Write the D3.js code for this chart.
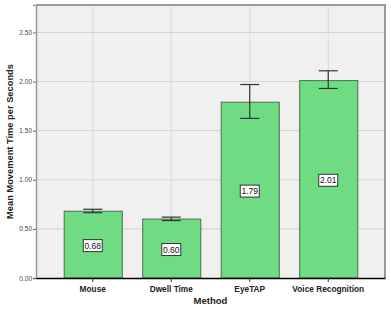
<!DOCTYPE html>
<html><head><meta charset="utf-8">
<script src="https://cdn.jsdelivr.net/npm/d3@7"></script>
<style>body{margin:0;background:#fff;}svg{display:block;}</style>
</head><body>
<svg id="c" width="391" height="313"></svg>
<script>
const categories = ["Mouse", "Dwell Time", "EyeTAP", "Voice Recognition"];
const means = [0.68, 0.60, 1.79, 2.01];
const errLow = [0.665, 0.585, 1.625, 1.93];
const errHigh = [0.70, 0.62, 1.97, 2.11];
const yTicks = [0, 0.5, 1.0, 1.5, 2.0, 2.5];
const yTitle = "Mean Movement Time per Seconds";
const xTitle = "Method";

const svg = d3.select("#c");
const L = 36, R = 385, T = 5, B = 278;
const x = d3.scaleBand().domain(categories).range([L, R]).paddingInner(0.26).paddingOuter(0.353);
const y = d3.scaleLinear().domain([0, 2.78]).range([B, T]);

svg.append("rect").attr("x", L).attr("y", T).attr("width", R - L).attr("height", B - T).attr("fill", "#f0f0f0");

// grid
svg.append("g").selectAll("line").data(yTicks.slice(1)).join("line")
  .attr("x1", L).attr("x2", R).attr("y1", d => y(d)).attr("y2", d => y(d))
  .attr("stroke", "#d2d2d2").attr("stroke-width", 1);
svg.append("g").selectAll("line").data(categories).join("line")
  .attr("x1", d => x(d) + x.bandwidth() / 2).attr("x2", d => x(d) + x.bandwidth() / 2)
  .attr("y1", T).attr("y2", B).attr("stroke", "#dcdcdc").attr("stroke-width", 1);

// border top/right
svg.append("path").attr("d", `M${L},${T}H${R}V${B}`).attr("fill", "none").attr("stroke", "#999").attr("stroke-width", 2);

// bars
svg.append("g").selectAll("rect").data(categories).join("rect")
  .attr("x", d => x(d) + 0.5).attr("width", x.bandwidth())
  .attr("y", (d, i) => y(means[i])).attr("height", (d, i) => B - y(means[i]))
  .attr("fill", "#6fdc84").attr("stroke", "#4d6b52").attr("stroke-width", 1);

// error bars
const eb = svg.append("g").attr("stroke", "#333").attr("stroke-width", 1.2);
categories.forEach((c, i) => {
  const cx = x(c) + x.bandwidth() / 2;
  eb.append("line").attr("x1", cx).attr("x2", cx).attr("y1", y(errLow[i])).attr("y2", y(errHigh[i]));
  eb.append("line").attr("x1", cx - 9.5).attr("x2", cx + 9.5).attr("y1", y(errLow[i])).attr("y2", y(errLow[i]));
  eb.append("line").attr("x1", cx - 9.5).attr("x2", cx + 9.5).attr("y1", y(errHigh[i])).attr("y2", y(errHigh[i]));
});

// value labels
categories.forEach((c, i) => {
  const cx = x(c) + x.bandwidth() / 2;
  const cy = (y(means[i]) + B) / 2 + 1;
  svg.append("rect").attr("x", cx - 9.5).attr("y", cy - 6).attr("width", 19).attr("height", 12)
    .attr("fill", "#fff").attr("stroke", "#333").attr("stroke-width", 1);
  svg.append("text").attr("x", cx).attr("y", cy + 3).attr("text-anchor", "middle")
    .attr("font-family", "Liberation Sans, Arial, sans-serif").attr("font-size", 8.5).attr("fill", "#111")
    .text(means[i].toFixed(2));
});

// y axis
const ya = svg.append("g").attr("transform", `translate(${L},0)`)
  .call(d3.axisLeft(y).tickValues(yTicks).tickFormat(d3.format(".2f")).tickSize(3).tickPadding(1));
ya.select(".domain").attr("stroke", "#999").attr("stroke-width", 1.5);
ya.selectAll(".tick line").attr("stroke", "#666");
ya.selectAll("text").attr("font-family", "Liberation Sans, Arial, sans-serif").attr("font-size", 6.5).attr("fill", "#444");

// x axis
const xa = svg.append("g").attr("transform", `translate(0,${B})`)
  .call(d3.axisBottom(x).tickSize(4).tickSizeOuter(0).tickPadding(4));
xa.select(".domain").attr("stroke", "#000").attr("stroke-width", 1.5);
xa.selectAll(".tick line").attr("stroke", "#333");
xa.selectAll("text").attr("font-family", "Liberation Sans, Arial, sans-serif").attr("font-size", 8.3)
  .attr("font-weight", "bold").attr("fill", "#222");

svg.append("text").attr("x", (L + R) / 2).attr("y", 304).attr("text-anchor", "middle")
  .attr("font-family", "Liberation Sans, Arial, sans-serif").attr("font-size", 9.5).attr("font-weight", "bold")
  .attr("fill", "#222").text(xTitle);
svg.append("text").attr("transform", `translate(13,${(T + B) / 2}) rotate(-90)`).attr("text-anchor", "middle")
  .attr("font-family", "Liberation Sans, Arial, sans-serif").attr("font-size", 9.3).attr("font-weight", "bold")
  .attr("fill", "#222").text(yTitle);
</script>
</body></html>
